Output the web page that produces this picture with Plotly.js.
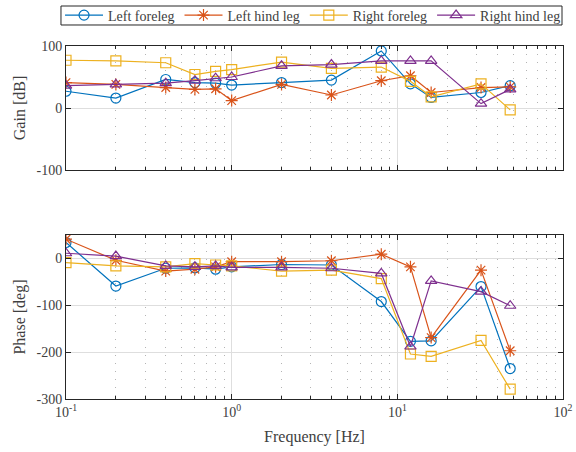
<!DOCTYPE html>
<html><head><meta charset="utf-8">
<script src="https://cdn.plot.ly/plotly-3.0.1.min.js"></script>
<style>html,body{margin:0;padding:0;background:#fff}#chart{width:576px;height:452px}</style>
</head><body><div id="chart"></div>
<script>
const freq = [0.1, 0.2, 0.4, 0.6, 0.8, 1, 2, 4, 8, 12, 16, 32, 48];
const seriesNames = ["Left foreleg", "Left hind leg", "Right foreleg", "Right hind leg"];
const gainLF = [27, 16, 46, 41, 40, 37, 41, 45, 92, 39, 17, 25, 36];
const gainLH = [41, 38, 33, 30, 31, 12, 38, 21, 44, 52, 25, 33, 34];
const gainRF = [77, 76, 73, 54, 59, 62, 74, 64, 66, 43, 18, 39, -3];
const gainRH = [36, 38, 40, 44, 48, 50, 68, 70, 76, 76, 76, 7, 30];
const phaseLF = [34, -59, -21, -20, -23, -18, -13, -14, -92, -177, -176, -60, -235];
const phaseLH = [41, -4, -27, -23, -18, -7, -7, -5, 9, -18, -169, -25, -197];
const phaseRF = [-9, -16, -18, -11, -14, -16, -27, -25, -43, -204, -209, -175, -279];
const phaseRH = [11, 5, -16, -18, -16, -19, -19, -21, -32, -188, -48, -71, -101];
const xTickVals = [0.1, 1, 10, 100];
const xTickText = ["10<sup>-1</sup>", "10<sup>0</sup>", "10<sup>1</sup>", "10<sup>2</sup>"];
const xMinorVals = [0.2, 0.3, 0.4, 0.5, 0.6, 0.7, 0.8, 0.9, 2, 3, 4, 5, 6, 7, 8, 9, 20, 30, 40, 50, 60, 70, 80, 90];
const gainTickVals = [-100, 0, 100];
const gainTickText = ["-100", "0", "100"];
const phaseTickVals = [-300, -200, -100, 0];
const phaseTickText = ["-300", "-200", "-100", "0"];

const colors = ["#0072BD", "#D95319", "#EDB120", "#7E2F8E"];
const symbols = ["circle-open", "asterisk-open", "square-open", "triangle-up-open"];
const gains = [gainLF, gainLH, gainRF, gainRH];
const phases = [phaseLF, phaseLH, phaseRF, phaseRH];

const traces = [];
for (let i = 0; i < 4; i++) {
  traces.push({x: freq, y: gains[i], name: seriesNames[i], xaxis: 'x', yaxis: 'y',
    mode: 'lines+markers', line: {color: colors[i], width: 1.2},
    marker: {symbol: symbols[i], size: 10, color: colors[i], line: {width: 1.2, color: colors[i]}}});
}
for (let i = 0; i < 4; i++) {
  traces.push({x: freq, y: phases[i], name: seriesNames[i], xaxis: 'x2', yaxis: 'y2', showlegend: false,
    mode: 'lines+markers', line: {color: colors[i], width: 1.2},
    marker: {symbol: symbols[i], size: 10, color: colors[i], line: {width: 1.2, color: colors[i]}}});
}

const txt = '#404040';
const fam = 'Liberation Serif, Times New Roman, serif';
const fnt = {family: fam, size: 14, color: txt};
const tfnt = {family: fam, size: 16, color: txt};
function xax(labels, anchor) {
  return {type: 'log', range: [-1, 2], anchor: anchor, tickmode: 'array', tickvals: xTickVals, ticktext: xTickText,
    showticklabels: labels, ticks: 'inside', ticklen: 5, tickcolor: '#262626',
    showline: true, linecolor: '#262626', linewidth: 1, mirror: 'ticks',
    showgrid: true, gridcolor: '#dedede', gridwidth: 1, zeroline: false,
    minor: {tickmode: 'array', tickvals: xMinorVals, showgrid: true, gridcolor: '#b4b4b4', griddash: '1px,7px',
      ticks: 'inside', ticklen: 3, tickcolor: '#262626'},
    tickfont: fnt};
}
function yax(domain, range, tv, tt, anchor, title) {
  return {domain: domain, range: range, tickmode: 'array', tickvals: tv, ticktext: tt, anchor: anchor,
    ticks: 'inside', ticklen: 5, tickcolor: '#262626', showline: true, linecolor: '#262626', mirror: 'ticks',
    showgrid: true, gridcolor: '#dedede', zeroline: false, tickfont: fnt,
    title: {text: title, font: tfnt, standoff: 6}};
}
const layout = {
  width: 576, height: 452,
  margin: {l: 66, r: 13, t: 46, b: 53, autoexpand: false},
  paper_bgcolor: '#fff', plot_bgcolor: '#fff',
  font: fnt,
  showlegend: true,
  legend: {orientation: 'h', x: -0.012, xanchor: 'left', y: 1.0864, yanchor: 'middle',
    borderwidth: 0, bgcolor: 'rgba(0,0,0,0)', font: fnt, itemwidth: 38, tracegroupgap: 0},
  shapes: [{type: 'rect', xref: 'paper', yref: 'paper', x0: -0.0101, x1: 0.998, y0: 1.0595, y1: 1.1133,
    line: {color: '#262626', width: 1}, fillcolor: 'rgba(0,0,0,0)', layer: 'below'}],
  xaxis: xax(false, 'y'),
  xaxis2: Object.assign(xax(true, 'y2'), {title: {text: 'Frequency [Hz]', font: tfnt, standoff: 12}}),
  yaxis: yax([0.6487, 1], [-100, 100], gainTickVals, gainTickText, 'x', 'Gain [dB]'),
  yaxis2: yax([0, 0.4646], [-300, 50], phaseTickVals, phaseTickText, 'x2', 'Phase [deg]')
};
Plotly.newPlot('chart', traces, layout, {displayModeBar: false, staticPlot: true});
</script></body></html>
